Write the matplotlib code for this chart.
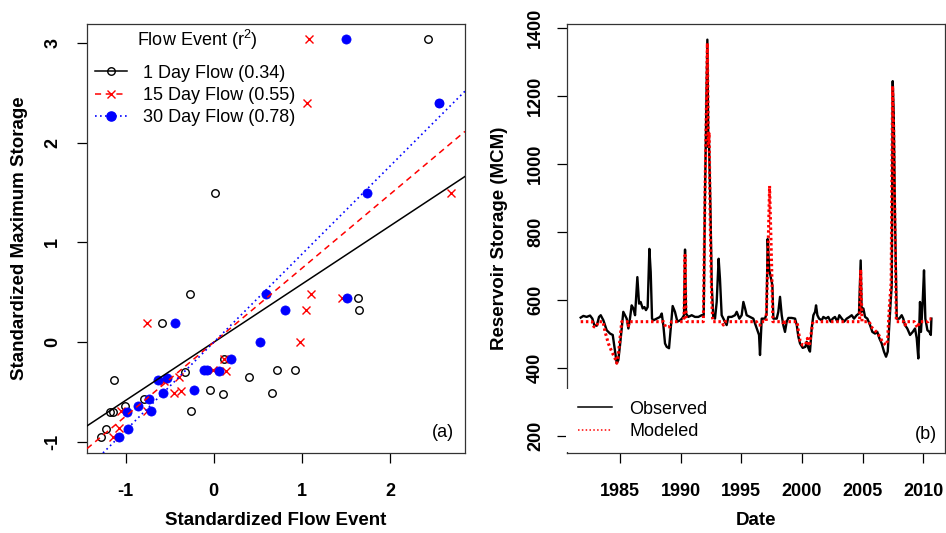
import numpy as np
import matplotlib
matplotlib.use("Agg")
import matplotlib.pyplot as plt
from matplotlib.lines import Line2D

plt.rcParams["font.family"] = ["Liberation Sans", "DejaVu Sans"]
plt.rcParams["mathtext.fontset"] = "custom"
plt.rcParams["mathtext.rm"] = "Liberation Sans"
plt.rcParams["mathtext.default"] = "regular"

# ---------------- panel (a): standardized flow events vs. maximum storage ----------------
day1_x = [2.435, 2.55, 0.01, -0.27, 1.631, 1.650, -0.585, 0.113, 0.717, 0.917, -0.321,
          0.396, -1.136, -0.045, 0.106, 0.661, -0.789, -1.008, -1.174, -1.147, -0.260,
          -1.223, -1.279]
day1_y = [3.04, 2.40, 1.50, 0.479, 0.445, 0.328, 0.194, -0.164, -0.274, -0.274, -0.295,
          -0.351, -0.381, -0.482, -0.515, -0.508, -0.569, -0.636, -0.699, -0.699, -0.694,
          -0.870, -0.950]

day15_x = [1.076, 1.058, 2.69, 1.103, 1.454, 1.046, -0.755, 0.982, 0.113, -0.007, 0.136,
           -0.40, -0.57, -0.367, -0.455, -1.053, -0.753, -1.071, -1.147]
day15_y = [3.04, 2.40, 1.50, 0.479, 0.445, 0.322, 0.194, 0.004, -0.164, -0.278, -0.290,
           -0.352, -0.385, -0.490, -0.512, -0.692, -0.692, -0.862, -0.950]

day30_x = [1.50, 2.56, 1.737, 0.597, 1.510, 0.812, -0.445, 0.521, 0.197, -0.113, -0.075,
           0.061, -0.536, -0.632, -0.228, -0.574, -0.730, -0.864, -0.985, -0.715, -0.977,
           -1.079]
day30_y = [3.04, 2.40, 1.50, 0.479, 0.445, 0.328, 0.194, 0.004, -0.164, -0.274, -0.274,
           -0.292, -0.358, -0.383, -0.477, -0.510, -0.567, -0.636, -0.699, -0.694, -0.870,
           -0.950]

r2_values = [0.34, 0.55, 0.78]
series_names = ["1 Day Flow", "15 Day Flow", "30 Day Flow"]

# ---------------- panel (b): observed and modeled reservoir storage ----------------
obs_year = [1981.76, 1981.98, 1982.25, 1982.53, 1982.72, 1982.88, 1983.08, 1983.27, 1983.41,
            1983.63, 1983.90, 1984.18, 1984.40, 1984.59, 1984.73, 1984.86, 1985.00, 1985.14,
            1985.27, 1985.41, 1985.55, 1985.69, 1985.82, 1985.96, 1986.10, 1986.24, 1986.43,
            1986.57, 1986.70, 1986.87, 1987.01, 1987.14, 1987.28, 1987.42, 1987.53, 1987.64,
            1987.75, 1988.02, 1988.30, 1988.44, 1988.57, 1988.71, 1988.85, 1989.04, 1989.20,
            1989.34, 1989.53, 1989.73, 1989.95, 1990.11, 1990.28, 1990.36, 1990.44, 1990.63,
            1990.91, 1991.18, 1991.46, 1991.73, 1991.90, 1992.00, 1992.20, 1992.28, 1992.33,
            1992.40, 1992.47, 1992.56, 1992.69, 1992.83, 1992.97, 1993.13, 1993.24, 1993.38,
            1993.52, 1993.79, 1993.93, 1994.20, 1994.48, 1994.62, 1994.84, 1995.03, 1995.17,
            1995.31, 1995.44, 1995.72, 1995.99, 1996.27, 1996.46, 1996.54, 1996.68, 1996.95,
            1997.08, 1997.17, 1997.30, 1997.45, 1997.56, 1997.64, 1997.92, 1998.05, 1998.19,
            1998.33, 1998.46, 1998.60, 1998.74, 1998.88, 1999.15, 1999.43, 1999.57, 1999.70,
            1999.84, 2000.06, 2000.28, 2000.39, 2000.53, 2000.66, 2000.80, 2000.94, 2001.08,
            2001.16, 2001.27, 2001.41, 2001.63, 2001.76, 2001.98, 2002.17, 2002.37, 2002.53,
            2002.72, 2002.92, 2003.08, 2003.28, 2003.47, 2003.69, 2003.91, 2004.10, 2004.29,
            2004.51, 2004.70, 2004.84, 2004.92, 2005.06, 2005.20, 2005.39, 2005.61, 2005.80,
            2006.02, 2006.21, 2006.38, 2006.57, 2006.76, 2006.93, 2007.07, 2007.18, 2007.31,
            2007.40, 2007.48, 2007.56, 2007.67, 2007.81, 2008.02, 2008.22, 2008.35, 2008.49,
            2008.68, 2008.91, 2009.13, 2009.32, 2009.46, 2009.59, 2009.73, 2009.81, 2009.95,
            2010.06, 2010.17, 2010.34, 2010.50, 2010.62, 2010.67]
obs_storage = [549, 554, 551, 555, 546, 527, 525, 551, 556,
               541, 512, 502, 498, 449, 415, 424, 468, 517,
               566, 556, 546, 517, 546, 585, 576, 556, 668,
               590, 595, 576, 580, 571, 580, 751, 683, 546,
               541, 546, 551, 561, 527, 473, 463, 459, 527,
               583, 566, 537, 541, 546, 556, 749, 561, 551,
               556, 551, 551, 556, 556, 900, 1366, 1050, 1080,
               960, 839, 644, 551, 546, 595, 722, 663, 556,
               546, 527, 551, 551, 556, 566, 546, 556, 595,
               576, 556, 551, 546, 517, 498, 439, 546, 546,
               560, 780, 690, 663, 644, 546, 546, 566, 610,
               556, 527, 507, 537, 548, 548, 546, 527, 493,
               473, 460, 463, 478, 459, 449, 517, 556, 566,
               585, 556, 546, 541, 551, 546, 551, 537, 546,
               551, 537, 556, 546, 537, 546, 551, 556, 546,
               556, 561, 717, 566, 576, 551, 546, 527, 507,
               502, 507, 488, 473, 449, 434, 449, 517, 595,
               644, 1244, 1150, 839, 546, 546, 556, 546, 527,
               517, 498, 507, 517, 488, 429, 595, 507, 595,
               688, 546, 512, 507, 498, 546]

mod_year = [1981.76, 1982.70, 1982.85, 1983.05, 1983.20, 1983.60, 1983.77, 1984.04, 1984.32,
            1984.59, 1984.73, 1984.86, 1985.00, 1985.14, 1985.60, 1985.69, 1985.80, 1988.60,
            1988.75, 1989.10, 1989.25, 1990.20, 1990.28, 1990.36, 1990.44, 1990.52, 1991.87,
            1992.00, 1992.20, 1992.28, 1992.35, 1992.45, 1992.56, 1992.65, 1993.40, 1993.52,
            1993.65, 1996.25, 1996.40, 1996.55, 1996.68, 1997.05, 1997.17, 1997.33, 1997.50,
            1997.60, 1998.40, 1998.50, 1998.65, 1999.60, 1999.70, 1999.85, 2000.05, 2000.30,
            2000.45, 2000.60, 2000.75, 2000.90, 2004.75, 2004.84, 2004.95, 2005.55, 2005.70,
            2006.00, 2006.30, 2006.60, 2006.90, 2007.05, 2007.20, 2007.35, 2007.47, 2007.56,
            2007.67, 2007.78, 2008.40, 2008.50, 2008.60, 2009.25, 2009.40, 2009.55, 2009.70,
            2010.40, 2010.50, 2010.67]
mod_storage = [537, 537, 522, 522, 537, 537, 507, 473, 449,
               429, 415, 439, 488, 537, 537, 525, 537, 537,
               522, 522, 537, 537, 550, 732, 550, 537, 537,
               900, 1356, 1060, 1093, 800, 600, 537, 537, 527,
               537, 537, 527, 527, 537, 537, 700, 936, 700,
               537, 537, 527, 537, 537, 510, 480, 468, 470,
               488, 465, 500, 537, 537, 690, 537, 537, 522,
               512, 500, 480, 468, 480, 580, 650, 1230, 1100,
               800, 537, 537, 527, 537, 537, 527, 520, 537,
               537, 545, 545]

year_ticks = [1985, 1990, 1995, 2000, 2005, 2010]
storage_ticks = [200, 400, 600, 800, 1000, 1200, 1400]

# ---------------- figure ----------------
W, H = 946, 533
fig = plt.figure(figsize=(W / 100, H / 100), dpi=100)


def px_axes(x0, x1, y0, y1):
    return fig.add_axes([x0 / W, 1 - y1 / H, (x1 - x0) / W, (y1 - y0) / H])


axa = px_axes(87, 465, 24, 453)
axb = px_axes(567, 945, 24, 453)

TICK_FS = 13
LABEL_FS = 13.5

for ax in (axa, axb):
    for sp in ax.spines.values():
        sp.set_linewidth(0.9)
        sp.set_color("#333333")
    ax.tick_params(direction="out", length=7.5, width=0.9, labelsize=TICK_FS)
    ax.tick_params(axis="x", pad=14)

# panel (a) points
axa.plot(day1_x, day1_y, linestyle="none", marker="o", ms=5.4, mfc="none",
         mec="black", mew=1.0, zorder=3)
axa.plot(day15_x, day15_y, linestyle="none", marker="x", ms=6.2, mec="#FF0000",
         mew=1.0, zorder=4)
axa.plot(day30_x, day30_y, linestyle="none", marker="o", ms=6.6, mfc="#0000FF",
         mec="#0000FF", mew=0.5, zorder=5)

# regression lines of the standardized variables: slope = r
line_styles = [dict(color="black", ls="-", lw=1.1),
               dict(color="#FF0000", ls=(0, (4, 3)), lw=1.1),
               dict(color="#0000FF", ls=(0, (1, 2)), lw=1.2)]
for r2, st in zip(r2_values, line_styles):
    axa.axline((0, 0), slope=np.sqrt(r2), zorder=6, **st)

axa.set_xlim(-1.438, 2.85)
axa.set_ylim(-1.11, 3.19)
axa.set_xticks([-1, 0, 1, 2])
axa.set_yticks([-1, 0, 1, 2, 3])
axa.set_xticklabels(["-1", "0", "1", "2"], fontweight="bold")
axa.set_yticklabels(["-1", "0", "1", "2", "3"], fontweight="bold", rotation=90,
                    va="center")
axa.tick_params(axis="y", pad=11)
axa.set_xlabel("Standardized Flow Event", fontsize=LABEL_FS, fontweight="bold")
axa.set_ylabel("Standardized Maximum Storage", fontsize=LABEL_FS, fontweight="bold")
axa.xaxis.set_label_coords(0.5, -0.138)
axa.yaxis.set_label_coords(-0.156, 0.5)

handles_a = [
    Line2D([], [], color="black", ls="-", lw=1.1, marker="o", ms=5.4, mfc="none",
           mec="black", mew=1.0),
    Line2D([], [], color="#FF0000", ls=(0, (4, 3)), lw=1.1, marker="x", ms=6.2,
           mec="#FF0000", mew=1.0),
    Line2D([], [], color="#0000FF", ls=(0, (1, 2)), lw=1.2, marker="o", ms=6.6,
           mfc="#0000FF", mec="#0000FF"),
]
labels_a = [f"{n} ({v:.2f})" for n, v in zip(series_names, r2_values)]
axa.legend(handles_a, labels_a, loc="upper left", bbox_to_anchor=(0.021, 0.905),
           frameon=False, fontsize=13, handlelength=1.77, handletextpad=0.9,
           labelspacing=0.29, borderpad=0, borderaxespad=0)
axa.text(0.2905, 0.9627, "Flow Event (r$^2$)", transform=axa.transAxes,
         ha="center", va="center", fontsize=13)
axa.text(0.971, 0.047, "(a)", transform=axa.transAxes, ha="right", va="center",
         fontsize=13)

# panel (b) time series
axb.plot(obs_year, obs_storage, color="black", lw=1.7, zorder=3)
axb.plot(mod_year, mod_storage, color="#FF0000", lw=2.2, ls=(0, (0.8, 0.9)), zorder=4)
axb.set_xlim(1980.63, 2011.79)
axb.set_ylim(151, 1412)
axb.set_xticks(year_ticks)
axb.set_xticklabels([str(y) for y in year_ticks], fontweight="bold")
axb.set_yticks(storage_ticks)
axb.set_yticklabels([str(v) for v in storage_ticks], fontweight="bold", rotation=90,
                    va="center")
axb.tick_params(axis="y", pad=9)
axb.set_xlabel("Date", fontsize=LABEL_FS, fontweight="bold")
axb.set_ylabel("Reservoir Storage (MCM)", fontsize=LABEL_FS, fontweight="bold")
axb.xaxis.set_label_coords(0.5, -0.138)
axb.yaxis.set_label_coords(-0.156, 0.5)

handles_b = [Line2D([], [], color="black", lw=1.1),
             Line2D([], [], color="#FF0000", lw=1.1, ls=(0, (1, 1.5)))]
legb = axb.legend(handles_b, ["Observed", "Modeled"], loc="lower left",
                  bbox_to_anchor=(-0.003, 0.003), borderaxespad=0, fontsize=13,
                  frameon=True, fancybox=False, framealpha=1, facecolor="white",
                  edgecolor="none", borderpad=0.65, handlelength=1.88,
                  handletextpad=1.0, labelspacing=0.29)
legb.set_zorder(10)
axb.text(0.979, 0.044, "(b)", transform=axb.transAxes, ha="right", va="center",
         fontsize=13)

fig.savefig("out.png", dpi=100)
